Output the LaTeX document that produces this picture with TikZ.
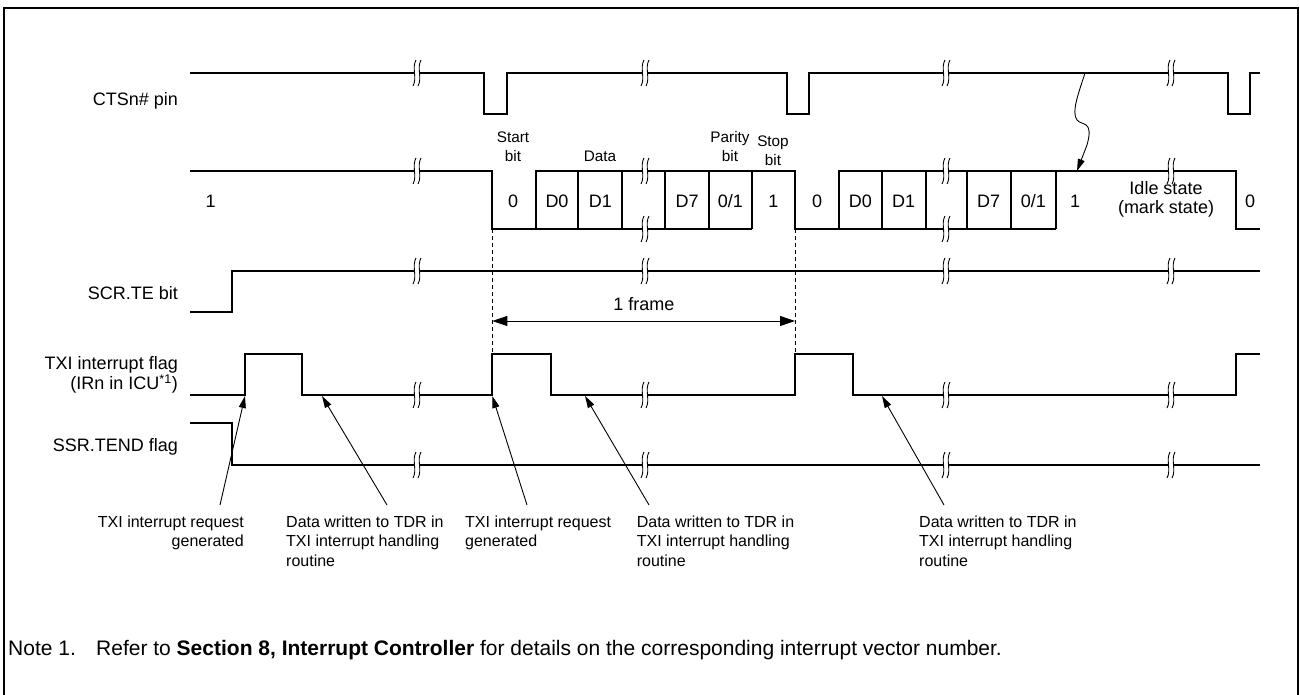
\documentclass[tikz,border=0pt]{standalone}
\usepackage{fontspec}
\setmainfont{Liberation Sans}
\usetikzlibrary{arrows.meta}
\tikzset{
  brk/.pic={
    \fill[white] (-1,-13) .. controls (-5.5,-5) and (0.5,5) .. (-4,13) -- (1,13) .. controls (5.5,5) and (-0.5,-5) .. (4,-13) -- cycle;
    \draw[line width=0.9pt] (-1,-13) .. controls (-5.5,-5) and (0.5,5) .. (-4,13);
    \draw[line width=0.9pt] (4,-13) .. controls (-0.5,-5) and (5.5,5) .. (1,13);
  }
}
\begin{document}
\begin{tikzpicture}[x=1pt,y=-1pt,
  sig/.style={line width=1.8pt, line join=miter},
  annarrow/.style={line width=0.9pt, -{Triangle[length=12pt,width=7pt]}},
  lab/.style={inner sep=0pt, font=\fontsize{18}{17}\selectfont},
  smalllab/.style={inner sep=0pt, font=\fontsize{15.3}{19}\selectfont},
  notelab/.style={inner sep=0pt, font=\fontsize{16}{19.5}\selectfont},
  footlab/.style={inner sep=0pt, font=\fontsize{21}{24}\selectfont},
  dashline/.style={line width=0.9pt, dash pattern=on 4pt off 3pt}
]
\useasboundingbox (0,0) rectangle (1300,695);
% outer frame (open at bottom)
\draw[line width=2pt] (4,695) -- (4,8) -- (1298,8) -- (1298,695);

% CTSn# pin
\draw[sig] (190,73) -- (484.3,73) -- (484.3,114) -- (506.7,114) -- (506.7,73) -- (787.3,73) -- (787.3,114) -- (809,114) -- (809,73) -- (1227.7,73) -- (1227.7,114) -- (1250,114) -- (1250,73) -- (1260,73);

% data line
\draw[sig] (190,171) -- (492.3,171) -- (492.3,229) -- (751.7,229);
\draw[sig] (535.7,229) -- (535.7,171) -- (795,171) -- (795,229) -- (1055.7,229);
\draw[sig] (839,229) -- (839,171) -- (1235.7,171) -- (1235.7,229) -- (1260,229);
\foreach \x in {578.3,622.3,664.7,709,751.7,881.7,925.7,966.7,1010.7,1055.7}
  \draw[sig] (\x,171) -- (\x,229);

% SCR.TE
\draw[sig] (190,312) -- (232,312) -- (232,271) -- (1260,271);

% TXI flag
\draw[sig] (190,395) -- (245,395) -- (245,354) -- (302,354) -- (302,395) -- (492.3,395) -- (492.3,354) -- (550.7,354) -- (550.7,395) -- (795,395) -- (795,354) -- (853,354) -- (853,395) -- (1236,395) -- (1236,354) -- (1260,354);

% SSR.TEND
\draw[sig] (190,423) -- (232,423) -- (232,465) -- (1260,465);

% break marks
\foreach \x in {417,645,946,1171}
  \foreach \y in {73,271,395,465}
    \pic at (\x,\y) {brk};
\pic at (417,171) {brk};
\pic at (645,171) {brk};
\pic at (645,229) {brk};
\pic at (946,171) {brk};
\pic at (946,229) {brk};
\pic at (1171,171) {brk};

% dashed frame limits
\coordinate (dLa) at (492.3,229);
\coordinate (dLb) at (492.3,354);
\coordinate (dRa) at (795,229);
\coordinate (dRb) at (795,354);
\draw[dashline] (dLa) -- (dLb);
\draw[dashline] (dRa) -- (dRb);

% 1 frame
\coordinate (fL) at (492.3,321);
\coordinate (fR) at (795,321);
\draw[line width=0.9pt, {Triangle[length=15pt,width=10pt]}-{Triangle[length=15pt,width=10pt]}] (fL) -- (fR);
\node[lab, anchor=base] (frame) at (644,310.5) {1 frame};

% left labels
\node[lab, anchor=base east] (lcts) at (178,105.5) {CTSn\# pin};
\node[lab, anchor=base east] (lscr) at (178,299.5) {SCR.TE bit};
\node[lab, anchor=north east, align=right] (ltxi) at (178,356.5) {TXI interrupt flag\\(IRn in ICU\textsuperscript{*1})};
\node[lab, anchor=base east] (ltend) at (178,451.5) {SSR.TEND flag};

% data values
\node[lab, anchor=base] (v1) at (210.7,207.5) {1};
\node[lab, anchor=base] (v2) at (513,207.5) {0};
\node[lab, anchor=base] (v3) at (557,207.5) {D0};
\node[lab, anchor=base] (v4) at (600.3,207.5) {D1};
\node[lab, anchor=base] (v5) at (687,207.5) {D7};
\node[lab, anchor=base] (v6) at (730.3,207.5) {0/1};
\node[lab, anchor=base] (v7) at (773.3,207.5) {1};
\node[lab, anchor=base] (v8) at (817,207.5) {0};
\node[lab, anchor=base] (v9) at (860.3,207.5) {D0};
\node[lab, anchor=base] (v10) at (903.7,207.5) {D1};
\node[lab, anchor=base] (v11) at (988.7,207.5) {D7};
\node[lab, anchor=base] (v12) at (1033.3,207.5) {0/1};
\node[lab, anchor=base] (v13) at (1075,207.5) {1};
\node[lab, anchor=north, align=center, font=\fontsize{18}{19}\selectfont] (idle) at (1166,181.5) {Idle state\\(mark state)};
\node[lab, anchor=base] (v14) at (1250,207.5) {0};

% field labels
\node[smalllab, anchor=north, align=center] (startb) at (513,131.5) {Start\\bit};
\node[smalllab, anchor=base] (datal) at (600,161.5) {Data};
\node[smalllab, anchor=north, align=center] (parb) at (730,131.5) {Parity\\bit};
\node[smalllab, anchor=north, align=center] (stopb) at (773,135.5) {Stop\\bit};

% curvy arrow from CTS to data idle
\coordinate (cs) at (1085,73);
\coordinate (ce) at (1077,171);
\draw[annarrow] (cs) .. controls (1079,92) and (1071,112) .. (1077,120) .. controls (1082,126) and (1094,120) .. (1087,145) -- (ce);

% annotation arrows
\coordinate (t1) at (245,396);   \coordinate (s1) at (220,505);
\coordinate (t2) at (322,396);   \coordinate (s2) at (387,505);
\coordinate (t3) at (492.3,396); \coordinate (s3) at (527,505);
\coordinate (t4) at (585,396);   \coordinate (s4) at (649,505);
\coordinate (t5) at (882,396);   \coordinate (s5) at (944,505);
\draw[annarrow] (s1) -- (t1);
\draw[annarrow] (s2) -- (t2);
\draw[annarrow] (s3) -- (t3);
\draw[annarrow] (s4) -- (t4);
\draw[annarrow] (s5) -- (t5);

\node[notelab, anchor=north east, align=right] (n1) at (244,515.3) {TXI interrupt request\\generated};
\node[notelab, anchor=north west, align=left] (n2) at (286,515.3) {Data written to TDR in\\TXI interrupt handling\\routine};
\node[notelab, anchor=north west, align=left] (n3) at (465,515.3) {TXI interrupt request\\generated};
\node[notelab, anchor=north west, align=left] (n4) at (636.6,515.3) {Data written to TDR in\\TXI interrupt handling\\routine};
\node[notelab, anchor=north west, align=left] (n5) at (919,515.3) {Data written to TDR in\\TXI interrupt handling\\routine};

% footnote
\node[footlab, anchor=base west] (note) at (8,655.5) {Note 1.};
\node[footlab, anchor=base west] (notetxt) at (96,655.5) {Refer to \textbf{Section 8, Interrupt Controller} for details on the corresponding interrupt vector number.};
\end{tikzpicture}
\end{document}
